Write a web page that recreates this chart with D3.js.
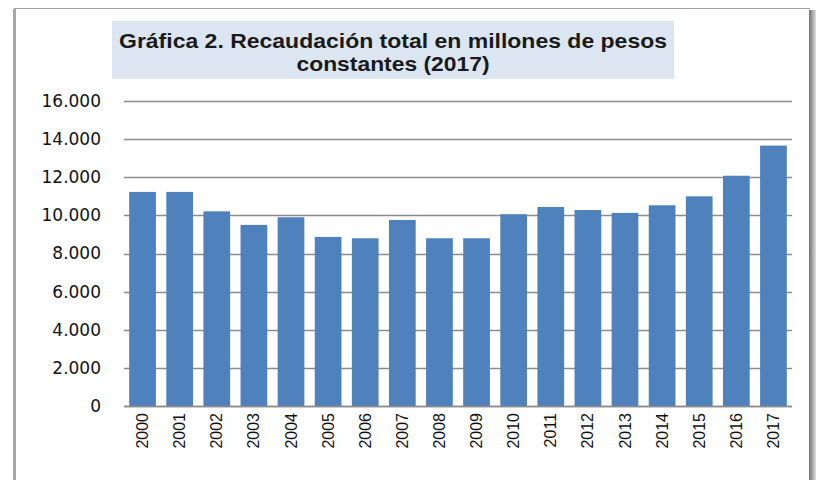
<!DOCTYPE html>
<html><head><meta charset="utf-8">
<script src="https://cdn.jsdelivr.net/npm/d3@7"></script>
<style>html,body{margin:0;padding:0;background:#fff;}svg{display:block;}</style>
</head><body>
<svg id="c" width="820" height="480"></svg>
<script>
const years = ["2000","2001","2002","2003","2004","2005","2006","2007","2008","2009","2010","2011","2012","2013","2014","2015","2016","2017"];
const recaudacion = [11230,11230,10210,9500,9900,8870,8800,9760,8800,8800,10060,10440,10280,10130,10530,11000,12080,13660];
const yTicks = [0,2000,4000,6000,8000,10000,12000,14000,16000];
const titleLines = ["Gráfica 2.  Recaudación total en millones de pesos","constantes (2017)"];

const svg = d3.select("#c");
// outer frame with shadow
const defs = svg.append("defs");
const g1 = defs.append("linearGradient").attr("id","shR").attr("x1","0").attr("x2","1");
g1.append("stop").attr("offset","0").attr("stop-color","#6e6e6e");
g1.append("stop").attr("offset","1").attr("stop-color","#e0e0e0");
svg.append("rect").attr("x",809).attr("y",10).attr("width",7).attr("height",480).attr("fill","url(#shR)");
svg.append("line").attr("x1",14).attr("x2",810).attr("y1",8.5).attr("y2",8.5).attr("stroke","#a0a0a0").attr("stroke-width",1);
svg.append("rect").attr("x",13).attr("y",9).attr("width",3).attr("height",480).attr("fill","#a6a6a6");

const m = {left:124, right:792, top:101, bottom:406};
const x = d3.scaleBand().domain(years).range([m.left, m.right]).paddingInner(0.28).paddingOuter(0.14);
const y = d3.scaleLinear().domain([0,16000]).range([m.bottom, m.top]);

// title box
svg.append("rect").attr("x",112).attr("y",21).attr("width",562).attr("height",58).attr("fill","#dce6f2");
const tLen = [548, 193];
svg.append("g").selectAll("text").data(titleLines).join("text")
  .attr("x",393).attr("y",(d,i)=>48+i*23).attr("text-anchor","middle")
  .attr("font-family","'Liberation Sans', Arial, sans-serif").attr("font-weight","bold")
  .attr("font-size",21).attr("fill","#1a1a1a")
  .attr("textLength",(d,i)=> tLen[i])
  .attr("lengthAdjust","spacingAndGlyphs")
  .text(d=>d);

// gridlines
svg.append("g").selectAll("line").data(yTicks).join("line")
  .attr("x1",m.left).attr("x2",m.right)
  .attr("y1",d=>Math.round(y(d))+0.5).attr("y2",d=>Math.round(y(d))+0.5)
  .attr("stroke","#8c8c8c").attr("stroke-width",1.6);

// y axis labels
const ya = svg.append("g").attr("transform",`translate(${m.left},0)`)
  .call(d3.axisLeft(y).tickValues(yTicks).tickSize(0).tickPadding(23)
    .tickFormat(d=>d3.format(",")(d).replace(/,/g,".")));
ya.select(".domain").remove();
ya.selectAll("text").attr("font-family","'DejaVu Sans', Verdana, sans-serif").attr("font-size",17).attr("fill","#111");

// bars
svg.append("g").selectAll("rect").data(recaudacion).join("rect")
  .attr("x",(d,i)=>x(years[i])).attr("width",x.bandwidth())
  .attr("y",d=>y(d)).attr("height",d=>y(0)-y(d))
  .attr("fill","#4f81bd");

// zero axis line
svg.append("line").attr("x1",m.left).attr("x2",m.right).attr("y1",y(0)+0.5).attr("y2",y(0)+0.5)
  .attr("stroke","#8c8c8c").attr("stroke-width",1.6);

// x axis labels
const xa = svg.append("g").attr("transform",`translate(0,${m.bottom})`)
  .call(d3.axisBottom(x).tickSize(0).tickPadding(0));
xa.select(".domain").remove();
xa.selectAll("text")
  .attr("font-family","'Liberation Sans', Arial, sans-serif").attr("font-size",16).attr("fill","#111")
  .attr("transform","rotate(-90)").attr("text-anchor","end").attr("dy","0.35em").attr("x",-7).attr("y",0);
</script>
</body></html>
